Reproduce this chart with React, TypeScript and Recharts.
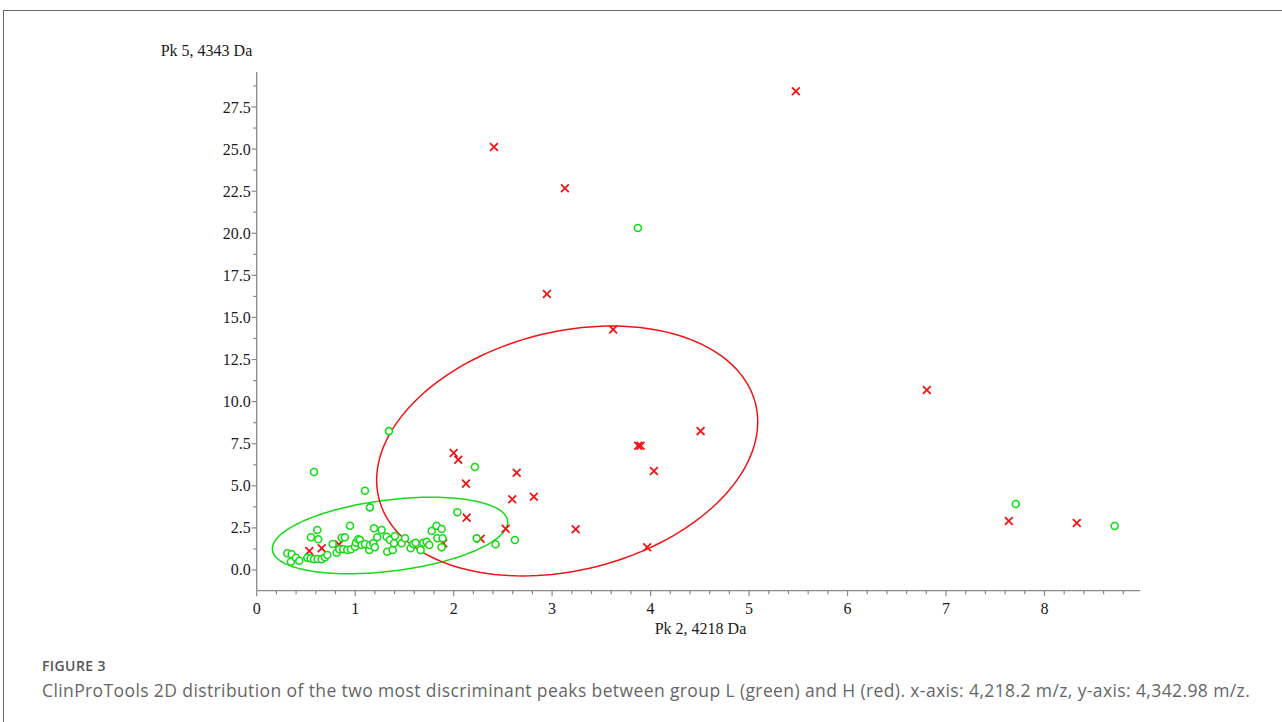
import React from "react";
import { ScatterChart, Scatter, XAxis, YAxis, Label } from "recharts";

// group L (green) – Pk 2 (x) vs Pk 5 (y)
const groupL: [number, number][] = [
  [0.311, 0.992], [0.355, 0.932], [0.348, 0.493], [0.399, 0.73], [0.432, 0.552],
  [0.514, 0.73], [0.548, 0.695], [0.582, 0.635], [0.619, 0.653], [0.66, 0.635],
  [0.693, 0.754], [0.717, 0.891], [0.551, 1.942], [0.615, 2.375], [0.625, 1.823],
  [0.772, 1.544], [0.812, 1.027], [0.839, 1.229], [0.863, 1.918], [0.896, 1.942],
  [0.879, 1.229], [0.92, 1.188], [0.947, 2.631], [0.957, 1.229], [0.998, 1.384],
  [1.008, 1.621], [1.031, 1.823], [1.049, 1.781], [1.066, 1.485], [1.1, 1.544],
  [1.143, 1.188], [1.15, 1.485], [1.184, 1.586], [1.191, 2.476], [1.201, 1.348],
  [1.224, 1.942], [1.269, 2.375], [1.32, 1.977], [1.326, 1.087], [1.353, 1.781],
  [1.381, 1.188], [1.394, 1.586], [1.404, 2.019], [1.472, 1.586], [1.506, 1.882],
  [1.563, 1.289], [1.59, 1.544], [1.614, 1.621], [1.665, 1.188], [1.691, 1.621],
  [1.726, 1.681], [1.752, 1.485], [1.777, 2.316], [1.827, 2.631], [1.834, 1.882],
  [1.878, 2.435], [1.878, 1.348], [1.888, 1.882],
  [3.871, 20.31], [1.343, 8.25], [0.582, 5.82], [2.216, 6.12], [1.099, 4.71],
  [1.15, 3.72], [2.037, 3.43], [7.708, 3.92], [8.713, 2.61], [2.622, 1.78],
  [2.426, 1.53], [2.234, 1.88],
];

// group H (red)
const groupH: [number, number][] = [
  [5.475, 28.44], [2.409, 25.12], [3.13, 22.68], [2.947, 16.39], [3.62, 14.29],
  [6.805, 10.69], [4.508, 8.25], [3.874, 7.38], [3.898, 7.38], [2.0, 6.95],
  [2.047, 6.55], [2.64, 5.78], [4.034, 5.88], [2.125, 5.13], [2.595, 4.2],
  [2.815, 4.35], [2.132, 3.11], [2.528, 2.45], [3.239, 2.42], [2.274, 1.86],
  [3.965, 1.35], [7.638, 2.91], [8.328, 2.79], [0.534, 1.13], [0.66, 1.29],
  [0.836, 1.51], [1.894, 1.59],
];

// ellipses: centre, two conjugate half-axis vectors (data units)
const ellipseL = { c: [1.354, 2.049], u: [1.195, 0.79], v: [0, 2.13] };
const ellipseH = { c: [3.153, 7.069], u: [1.935, 1.734], v: [0, 7.217] };

const xTicks = Array.from({ length: 45 }, (_, i) => +(i * 0.2).toFixed(1));
const yTicks = Array.from({ length: 24 }, (_, i) => i * 1.25);

const GREEN = "#14dc14";
const RED = "#f01414";
const AXIS = "#8a8a8a";
const SERIF = "'Liberation Serif', 'Times New Roman', serif";

const toPts = (arr: [number, number][]) => arr.map(([x, y]) => ({ x, y }));

function outline(e: { c: number[]; u: number[]; v: number[] }) {
  const pts = [];
  for (let i = 0; i <= 160; i++) {
    const t = (i / 160) * Math.PI * 2;
    pts.push({
      x: e.c[0] + e.u[0] * Math.cos(t) + e.v[0] * Math.sin(t),
      y: e.c[1] + e.u[1] * Math.cos(t) + e.v[1] * Math.sin(t),
    });
  }
  return pts;
}

const Ring = (p: any) => (
  <circle cx={p.cx} cy={p.cy} r={3.5} fill="#fff" stroke={GREEN} strokeWidth={1.6} />
);

const Cross = (p: any) => {
  const s = 3.9;
  return (
    <path
      d={`M${p.cx - s},${p.cy - s}L${p.cx + s},${p.cy + s}M${p.cx - s},${p.cy + s}L${p.cx + s},${p.cy - s}`}
      stroke={RED}
      strokeWidth={1.8}
      fill="none"
    />
  );
};

const Nothing = () => <g />;

const XTick = (p: any) => {
  const v = p.payload.value;
  const major = Math.abs(v - Math.round(v)) < 1e-6;
  return (
    <g>
      <line x1={p.x} x2={p.x} y1={p.y} y2={p.y + (major ? 5.5 : 3.5)} stroke={AXIS} strokeWidth={1.2} />
      {major && (
        <text x={p.x} y={p.y + 23} textAnchor="middle" fontFamily={SERIF} fontSize={16} fill="#1a1a1a">
          {Math.round(v)}
        </text>
      )}
    </g>
  );
};

const YTick = (p: any) => {
  const v = p.payload.value;
  const major = Math.abs(v / 2.5 - Math.round(v / 2.5)) < 1e-6;
  return (
    <g>
      <line x1={p.x - (major ? 5 : 3.5)} x2={p.x} y1={p.y} y2={p.y} stroke={AXIS} strokeWidth={1.2} />
      {major && (
        <text x={p.x - 6} y={p.y + 5.5} textAnchor="end" fontFamily={SERIF} fontSize={16} fill="#1a1a1a">
          {v.toFixed(1)}
        </text>
      )}
    </g>
  );
};

export default function App() {
  return (
    <div style={{ position: "absolute", left: 0, top: 0, width: 1282, height: 722, background: "#fff", overflow: "hidden" }}>
      <div style={{ position: "absolute", left: 3, top: 10, right: 0, bottom: 0, borderTop: "1px solid #666", borderLeft: "1px solid #666" }} />
      <div style={{ position: "absolute", left: 0, top: 0 }}>
        <ScatterChart width={1282} height={722} margin={{ top: 72, right: 142, bottom: 91.3, left: 196.7 }}>
          <XAxis
            type="number"
            dataKey="x"
            domain={[0, 8.97]}
            ticks={xTicks}
            interval={0}
            tickSize={0}
            tickMargin={0}
            tickLine={false}
            tick={<XTick />}
            height={40}
            allowDataOverflow
            axisLine={{ stroke: AXIS, strokeWidth: 1.3 }}
          >
            <Label
              content={(lp: any) => (
                <text x={lp.viewBox.x + 398} y={lp.viewBox.y + 43} fontFamily={SERIF} fontSize={16} fill="#1a1a1a">
                  Pk 2, 4218 Da
                </text>
              )}
            />
          </XAxis>
          <YAxis
            type="number"
            dataKey="y"
            domain={[-1.23, 29.58]}
            ticks={yTicks}
            interval={0}
            tickSize={0}
            tickMargin={0}
            tickLine={false}
            tick={<YTick />}
            width={60}
            allowDataOverflow
            axisLine={{ stroke: AXIS, strokeWidth: 1.3 }}
          >
            <Label
              content={(lp: any) => (
                <text x={lp.viewBox.x + lp.viewBox.width - 96} y={lp.viewBox.y - 16} fontFamily={SERIF} fontSize={16} fill="#1a1a1a">
                  Pk 5, 4343 Da
                </text>
              )}
            />
          </YAxis>
          <Scatter data={outline(ellipseL)} line={{ stroke: GREEN, strokeWidth: 1.5 }} shape={<Nothing />} isAnimationActive={false} />
          <Scatter data={outline(ellipseH)} line={{ stroke: RED, strokeWidth: 1.5 }} shape={<Nothing />} isAnimationActive={false} />
          <Scatter data={toPts(groupH)} shape={<Cross />} isAnimationActive={false} />
          <Scatter data={toPts(groupL)} shape={<Ring />} isAnimationActive={false} />
        </ScatterChart>
      </div>
      <div style={{ position: "absolute", left: 42, top: 656, fontFamily: "'Open Sans', sans-serif", fontWeight: 600, fontSize: 14, color: "#555", letterSpacing: 0.4 }}>
        FIGURE 3
      </div>
      <div style={{ position: "absolute", left: 42, top: 678, fontFamily: "'Open Sans', sans-serif", fontSize: 17.5, color: "#666", whiteSpace: "nowrap", letterSpacing: 0.39 }}>
        ClinProTools 2D distribution of the two most discriminant peaks between group L (green) and H (red). x-axis: 4,218.2 m/z, y-axis: 4,342.98 m/z.
      </div>
    </div>
  );
}
